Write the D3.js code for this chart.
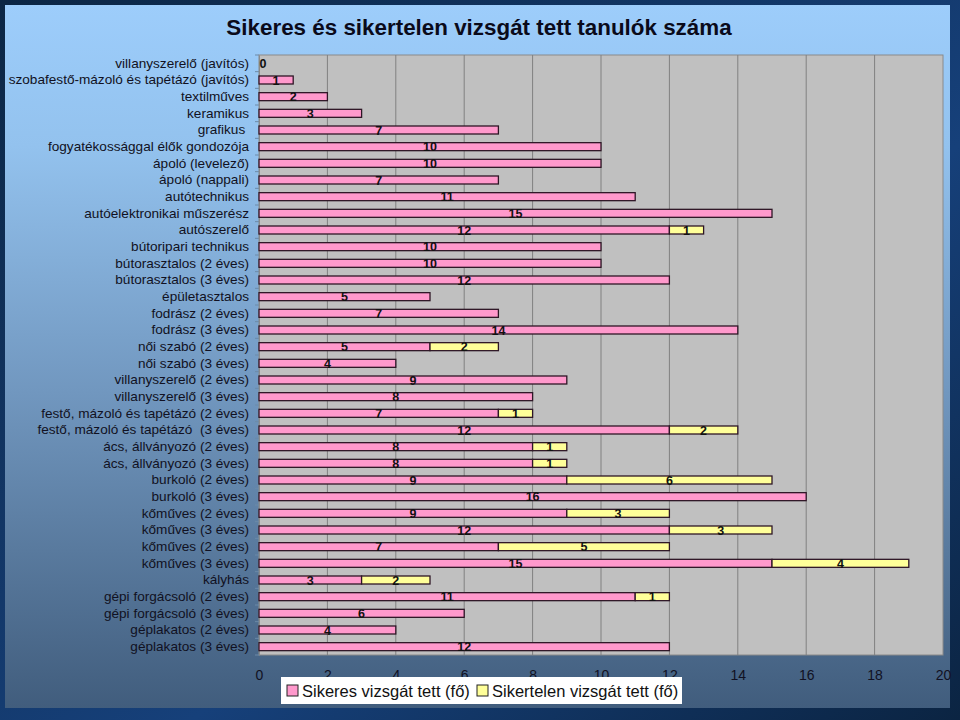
<!DOCTYPE html>
<html><head><meta charset="utf-8">
<script src="https://cdn.jsdelivr.net/npm/d3@7"></script>
<style>
html,body{margin:0;padding:0;background:#0d2a4c;}
svg{display:block;}
text{font-family:"Liberation Sans",Arial,sans-serif;}
</style></head><body>
<svg id="chart" width="960" height="720"></svg>
<script>
const categories = [
  "villanyszerelő (javítós)",
  "szobafestő-mázoló és tapétázó (javítós)",
  "textilműves",
  "keramikus",
  "grafikus ",
  "fogyatékossággal élők gondozója",
  "ápoló (levelező)",
  "ápoló (nappali)",
  "autótechnikus",
  "autóelektronikai műszerész",
  "autószerelő",
  "bútoripari technikus",
  "bútorasztalos (2 éves)",
  "bútorasztalos (3 éves)",
  "épületasztalos",
  "fodrász (2 éves)",
  "fodrász (3 éves)",
  "női szabó (2 éves)",
  "női szabó (3 éves)",
  "villanyszerelő (2 éves)",
  "villanyszerelő (3 éves)",
  "festő, mázoló és tapétázó (2 éves)",
  "festő, mázoló és tapétázó  (3 éves)",
  "ács, állványozó (2 éves)",
  "ács, állványozó (3 éves)",
  "burkoló (2 éves)",
  "burkoló (3 éves)",
  "kőműves (2 éves)",
  "kőműves (3 éves)",
  "kőműves (2 éves)",
  "kőműves (3 éves)",
  "kályhás",
  "gépi forgácsoló (2 éves)",
  "gépi forgácsoló (3 éves)",
  "géplakatos (2 éves)",
  "géplakatos (3 éves)"
];
const successful = [0,1,2,3,7,10,10,7,11,15,12,10,10,12,5,7,14,5,4,9,8,7,12,8,8,9,16,9,12,7,15,3,11,6,4,12];
const unsuccessful = [null,null,null,null,null,null,null,null,null,null,1,null,null,null,null,null,null,2,null,null,null,1,2,1,1,6,null,3,3,5,4,2,1,null,null,null];
const seriesNames = ["Sikeres vizsgát tett (fő)", "Sikertelen vizsgát tett (fő)"];
const xTicks = [0,2,4,6,8,10,12,14,16,18,20];
const title = "Sikeres és sikertelen vizsgát tett tanulók száma";

const W = 960, H = 720;
const svg = d3.select("#chart");
const defs = svg.append("defs");
const outerG = defs.append("linearGradient").attr("id","outer").attr("x1",0).attr("y1",0).attr("x2",1).attr("y2",1);
outerG.append("stop").attr("offset","0%").attr("stop-color","#0c2644");
outerG.append("stop").attr("offset","60%").attr("stop-color","#16407a");
outerG.append("stop").attr("offset","100%").attr("stop-color","#0b2442");
const panelG = defs.append("linearGradient").attr("id","panel").attr("x1",0).attr("y1",0).attr("x2",0).attr("y2",1);
panelG.append("stop").attr("offset","0%").attr("stop-color","#9dcdfb");
panelG.append("stop").attr("offset","20%").attr("stop-color","#93c2ee");
panelG.append("stop").attr("offset","55%").attr("stop-color","#7197bf");
panelG.append("stop").attr("offset","100%").attr("stop-color","#415d7d");

svg.append("rect").attr("width",W).attr("height",H).attr("fill","url(#outer)");
svg.append("rect").attr("x",5).attr("y",5).attr("width",945).attr("height",703).attr("fill","url(#panel)");

const plot = {left:259, right:943, top:55, bottom:655};
const x = d3.scaleLinear().domain([0,20]).range([plot.left, plot.right]);
const keys = categories.map((c,i)=>i);
const y = d3.scaleBand().domain(keys).range([plot.top, plot.bottom]).paddingInner(0.52).paddingOuter(0.26);
const yb = d3.scaleBand().domain(keys).range([plot.top, plot.bottom]);

svg.append("rect").attr("x",plot.left).attr("y",plot.top).attr("width",plot.right-plot.left).attr("height",plot.bottom-plot.top)
  .attr("fill","#c0c0c0").attr("stroke","#8a8a8a").attr("stroke-width",1);

// gridlines
svg.append("g").selectAll("line").data(xTicks.slice(1,-1)).join("line")
  .attr("x1",d=>x(d)).attr("x2",d=>x(d)).attr("y1",plot.top).attr("y2",plot.bottom)
  .attr("stroke","#808080").attr("stroke-width",1);

// y axis
const yAxis = d3.axisLeft(yb).tickFormat(i=>categories[i]).tickSize(0).tickPadding(10);
const yg = svg.append("g").attr("transform",`translate(${plot.left},0)`).call(yAxis);
yg.select(".domain").attr("stroke","#8a8a8a");
yg.selectAll("text").attr("font-size","13.6px").attr("fill","#111122").style("white-space","pre");
// category boundary ticks
svg.append("g").selectAll("line").data(d3.range(categories.length+1)).join("line")
  .attr("x1",plot.left-4).attr("x2",plot.left)
  .attr("y1",d=>plot.top + d*yb.step()).attr("y2",d=>plot.top + d*yb.step())
  .attr("stroke","#6d8aa8").attr("stroke-width",1);

// x axis
const xAxis = d3.axisBottom(x).tickValues(xTicks).tickSize(0).tickPadding(15);
const xg = svg.append("g").attr("transform",`translate(0,${plot.bottom})`).call(xAxis);
xg.select(".domain").remove();
xg.selectAll("text").attr("font-size","14px").attr("fill","#111122");

// bars
const pink = "#ff99cc", yellow = "#ffff99", edge = "#2e1626";
const bars = svg.append("g");
bars.selectAll("rect.s").data(keys).join("rect").attr("class","s")
  .attr("x",x(0)).attr("y",i=>y(i)).attr("width",i=>x(successful[i])-x(0)).attr("height",y.bandwidth())
  .attr("fill",pink).attr("stroke",edge).attr("stroke-width",1.3);
bars.selectAll("rect.f").data(keys.filter(i=>unsuccessful[i])).join("rect").attr("class","f")
  .attr("x",i=>x(successful[i])).attr("y",i=>y(i)).attr("width",i=>x(successful[i]+unsuccessful[i])-x(successful[i])).attr("height",y.bandwidth())
  .attr("fill",yellow).attr("stroke",edge).attr("stroke-width",1.3);

// labels
const lab = svg.append("g").attr("font-size","12.5px").attr("font-weight","bold").attr("fill","#111").attr("text-anchor","middle");
lab.selectAll("text.s").data(keys).join("text").attr("class","s")
  .attr("x",i=>successful[i]===0 ? x(0)+4 : x(successful[i]/2)).attr("y",i=>y(i)+y.bandwidth()/2+4.5)
  .text(i=>successful[i]);
lab.selectAll("text.f").data(keys.filter(i=>unsuccessful[i])).join("text").attr("class","f")
  .attr("x",i=>x(successful[i]+unsuccessful[i]/2)).attr("y",i=>y(i)+y.bandwidth()/2+4.5)
  .text(i=>unsuccessful[i]);

// title
svg.append("text").attr("x",479).attr("y",35).attr("text-anchor","middle")
  .attr("font-size","22.4px").attr("font-weight","bold").attr("fill","#0a0a1a").text(title);

// legend
const lg = svg.append("g");
lg.append("rect").attr("x",281).attr("y",677).attr("width",401).attr("height",27).attr("fill","#ffffff");
const colors = [pink, yellow];
const legX = [287, 477];
seriesNames.forEach((n,k)=>{
  lg.append("rect").attr("x",legX[k]).attr("y",685).attr("width",11).attr("height",11)
    .attr("fill",colors[k]).attr("stroke","#222").attr("stroke-width",1);
  lg.append("text").attr("x",legX[k]+15).attr("y",697).attr("font-size","16.5px").attr("fill","#111").text(n);
});
</script>
</body></html>
